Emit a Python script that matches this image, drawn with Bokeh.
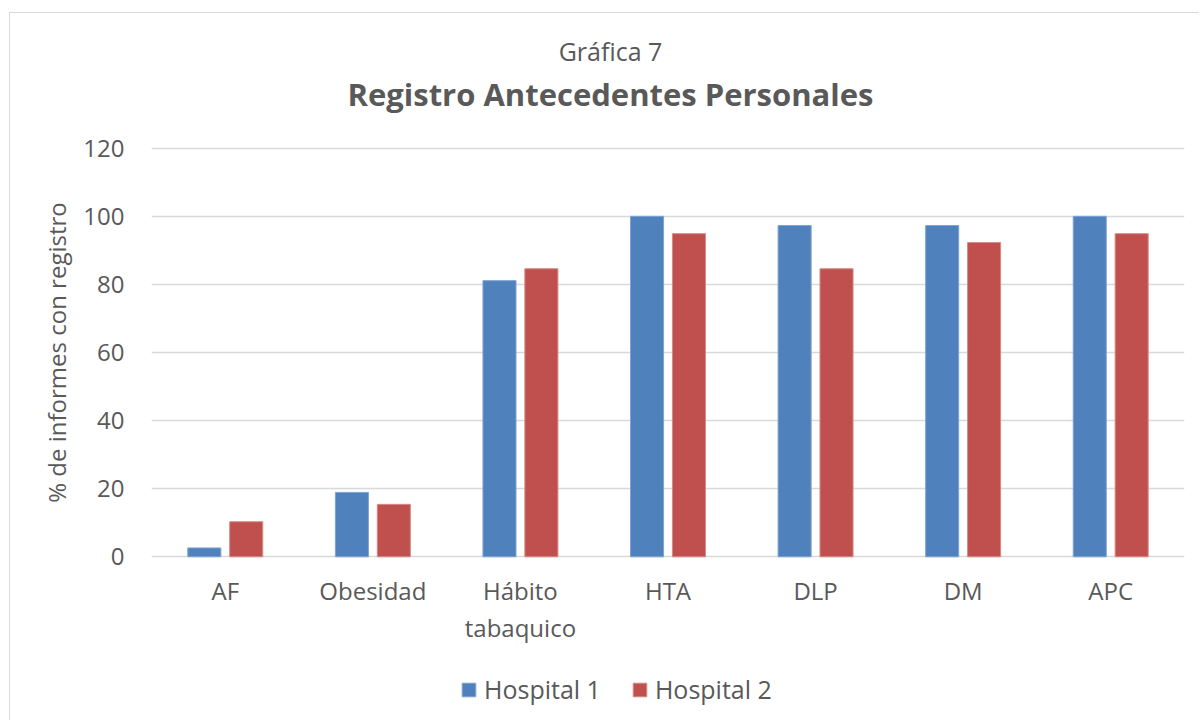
from bokeh.plotting import figure
from bokeh.layouts import column
from bokeh.models import (ColumnDataSource, Legend, LegendItem, Range1d, Label,
                          LinearAxis, FixedTicker)
from bokeh.transform import dodge
from bokeh.embed import file_html
from bokeh.resources import INLINE

categories = ["AF", "Obesidad", "Hábito tabaquico", "HTA", "DLP", "DM", "APC"]
tick_line1 = ["AF", "Obesidad", "Hábito", "HTA", "DLP", "DM", "APC"]
tick_line2 = ["", "", "tabaquico", "", "", "", ""]
hospital1 = [2.6, 18.9, 81.1, 100.0, 97.3, 97.3, 100.0]
hospital2 = [10.3, 15.4, 84.6, 94.9, 84.6, 92.3, 94.9]
series_names = ["Hospital 1", "Hospital 2"]
y_ticks = [0, 20, 40, 60, 80, 100, 120]
title_top = "Gráfica 7"
title_main = "Registro Antecedentes Personales"
y_label = "% de informes con registro"

FONT = "Open Sans"
TXT = "#595959"
BLUE = "#4F81BD"
RED = "#C0504D"
GRID = "#d9d9d9"
W = 1190


def strip(height, styles):
    f = figure(width=W, height=height, x_range=Range1d(0, 1), y_range=Range1d(0, 1),
               output_backend="svg", toolbar_location=None,
               x_axis_location=None, y_axis_location=None,
               min_border_left=0, min_border_right=0, min_border_top=0, min_border_bottom=0,
               background_fill_color="white", border_fill_color="white", styles=styles)
    f.outline_line_color = None
    f.grid.visible = False
    return f


# ---- header strip with the two title lines
ph = strip(118, {"border-left": f"1px solid {GRID}", "border-top": f"1px solid {GRID}"})
ph.margin = (12, 0, 0, 9)
ph.add_layout(Label(x=459, y=81, x_units="screen", y_units="screen", text=title_top,
                    text_align="center", text_baseline="alphabetic", text_font=FONT,
                    text_font_size="25px", text_color=TXT))
ph.add_layout(Label(x=459, y=38, x_units="screen", y_units="screen", text=title_main,
                    text_align="center", text_baseline="alphabetic", text_font=FONT,
                    text_font_size="31px", text_font_style="bold", text_color=TXT))

# ---- main chart
idx = list(range(len(categories)))
source = ColumnDataSource(data=dict(idx=idx, cat=categories, h1=hospital1, h2=hospital2))

p = figure(
    width=W, height=525,
    x_range=Range1d(-0.5, len(categories) - 0.5),
    y_range=Range1d(-0.5, 120.5),
    output_backend="svg", toolbar_location=None,
    min_border_left=141, min_border_right=16, min_border_top=16, min_border_bottom=97,
    background_fill_color="white", border_fill_color="white",
    styles={"border-left": f"1px solid {GRID}"},
)
p.margin = (0, 0, 0, 9)
p.outline_line_color = None

r1 = p.vbar(x=dodge("idx", -0.142), top="h1", bottom=0, width=0.224,
            source=source, fill_color=BLUE, line_color="#7FA3D3", line_width=1)
r2 = p.vbar(x=dodge("idx", 0.142), top="h2", bottom=0, width=0.224,
            source=source, fill_color=RED, line_color="#D58A88", line_width=1)

p.xgrid.grid_line_color = None
p.ygrid.grid_line_color = GRID
p.ygrid.grid_line_width = 1.5
p.ygrid.ticker = FixedTicker(ticks=y_ticks)

p.yaxis.ticker = FixedTicker(ticks=y_ticks)
xaxis1 = p.xaxis[0]
xaxis1.ticker = FixedTicker(ticks=idx)
xaxis1.major_label_overrides = {i: t for i, t in zip(idx, tick_line1)}

line2_idx = [i for i, t in zip(idx, tick_line2) if t]
xaxis2 = LinearAxis(ticker=FixedTicker(ticks=line2_idx),
                    major_label_overrides={i: tick_line2[i] for i in line2_idx})
p.add_layout(xaxis2, "below")

for ax in (xaxis1, xaxis2, p.yaxis[0]):
    ax.axis_line_color = None
    ax.major_tick_line_color = None
    ax.minor_tick_line_color = None
    ax.major_tick_out = 0
    ax.minor_tick_out = 0
    ax.major_label_text_font = FONT
    ax.major_label_text_font_size = "24px"
    ax.major_label_text_color = TXT

p.yaxis.major_label_standoff = 27
xaxis1.major_label_standoff = 15
xaxis2.major_label_standoff = 1

p.yaxis.axis_label = y_label
p.yaxis.axis_label_text_font = FONT
p.yaxis.axis_label_text_font_size = "24px"
p.yaxis.axis_label_text_font_style = "normal"
p.yaxis.axis_label_text_color = TXT
p.yaxis.axis_label_standoff = 7

# ---- legend strip below the chart
pl = strip(65, {"border-left": f"1px solid {GRID}"})
pl.margin = (0, 0, 0, 9)
# off-range placeholder glyphs that only serve as legend swatches
swatch = ColumnDataSource(data=dict(x=[-5.0], top=[0.0]))
l1 = pl.vbar(x="x", top="top", width=0.1, source=swatch, fill_color=BLUE, line_color="#7FA3D3")
l2 = pl.vbar(x="x", top="top", width=0.1, source=swatch, fill_color=RED, line_color="#D58A88")
legend = Legend(
    items=[LegendItem(label=series_names[0], renderers=[l1]),
           LegendItem(label=series_names[1], renderers=[l2])],
    location=(309, 14), orientation="horizontal",
    glyph_width=17, glyph_height=17, label_standoff=7, spacing=30,
    padding=0, margin=0, border_line_color=None, background_fill_alpha=0,
    label_text_font=FONT, label_text_font_size="25px", label_text_color=TXT,
)
pl.add_layout(legend, "center")

layout = column(ph, p, pl, spacing=0)
open("out.html", "w").write(file_html(layout, INLINE))
